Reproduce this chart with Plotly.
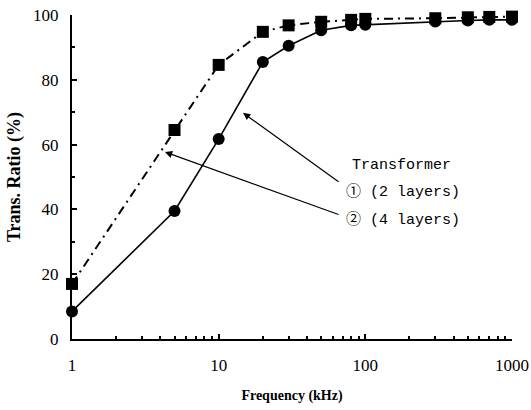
import plotly.graph_objects as go

freq = [1, 5, 10, 20, 30, 50, 80, 100, 300, 500, 700, 1000]
ratio_2layers = [8.5, 39.5, 61.7, 85.5, 90.5, 95.3, 96.8, 97.0, 98.0, 98.3, 98.5, 98.5]
ratio_4layers = [17.0, 64.5, 84.6, 94.8, 96.8, 97.9, 98.5, 98.8, 99.0, 99.3, 99.4, 99.5]
x_ticks = [1, 10, 100, 1000]
x_minor = [m * d for d in (1, 10, 100) for m in range(2, 10)]
y_ticks = [0, 20, 40, 60, 80, 100]

fig = go.Figure()
fig.add_trace(go.Scatter(
    x=freq, y=ratio_4layers, mode="lines+markers",
    line=dict(color="black", width=2, dash="9px,5px,2px,5px"),
    marker=dict(symbol="square", size=12, color="black"),
    cliponaxis=False, showlegend=False))
fig.add_trace(go.Scatter(
    x=freq, y=ratio_2layers, mode="lines+markers",
    line=dict(color="black", width=1.6),
    marker=dict(symbol="circle", size=12, color="black"),
    cliponaxis=False, showlegend=False))

serif = "Liberation Serif, Times New Roman, serif"
mono = "Liberation Mono, Noto Sans CJK SC, monospace"

fig.update_layout(
    width=531, height=410,
    margin=dict(l=72, r=19, t=15, b=71, autoexpand=False),
    paper_bgcolor="white", plot_bgcolor="white",
    font=dict(family=serif, color="black", size=16),
    xaxis=dict(
        type="log", range=[0, 3], automargin=False,
        tickvals=x_ticks, ticktext=[str(v) for v in x_ticks],
        ticks="inside", ticklen=5, tickwidth=1.5, tickcolor="black",
        minor=dict(tickvals=x_minor, ticks="inside", ticklen=3, tickcolor="black", showgrid=False),
        showline=True, linecolor="black", linewidth=2,
        showgrid=False, zeroline=False,
        tickfont=dict(family=serif, size=17), ticklabelstandoff=10,
        title=dict(text="<b>Frequency (kHz)</b>", font=dict(family=serif, size=14), standoff=16),
    ),
    yaxis=dict(
        range=[0, 100], tickvals=y_ticks, automargin=False,
        ticks="inside", ticklen=5, tickwidth=1.5, tickcolor="black",
        minor=dict(dtick=10, ticks="inside", ticklen=3, tickcolor="black", showgrid=False),
        showline=True, linecolor="black", linewidth=2,
        showgrid=False, zeroline=False,
        tickfont=dict(family=serif, size=17), ticklabelstandoff=8,
        title=dict(text="<b>Trans. Ratio (%)</b>", font=dict(family=serif, size=18), standoff=8),
    ),
)

# arrows
fig.add_annotation(x=1.166, y=69.8, xref="x", yref="y", ax=97, ay=70,
                   showarrow=True, arrowhead=2, arrowsize=1.2, arrowwidth=1.2,
                   arrowcolor="black", text="")
fig.add_annotation(x=0.634, y=57.7, xref="x", yref="y", ax=175, ay=63,
                   showarrow=True, arrowhead=2, arrowsize=1.2, arrowwidth=1.2,
                   arrowcolor="black", text="")

fig.add_annotation(x=0.748, y=0.537, xref="paper", yref="paper", text="Transformer",
                   showarrow=False, font=dict(family=mono, size=15), xanchor="center", yanchor="middle")
fig.add_annotation(x=0.618, y=0.454, xref="paper", yref="paper", text="① (2 layers)",
                   showarrow=False, font=dict(family=mono, size=15), xanchor="left", yanchor="middle")
fig.add_annotation(x=0.618, y=0.367, xref="paper", yref="paper", text="② (4 layers)",
                   showarrow=False, font=dict(family=mono, size=15), xanchor="left", yanchor="middle")

fig.write_html("out.html")
